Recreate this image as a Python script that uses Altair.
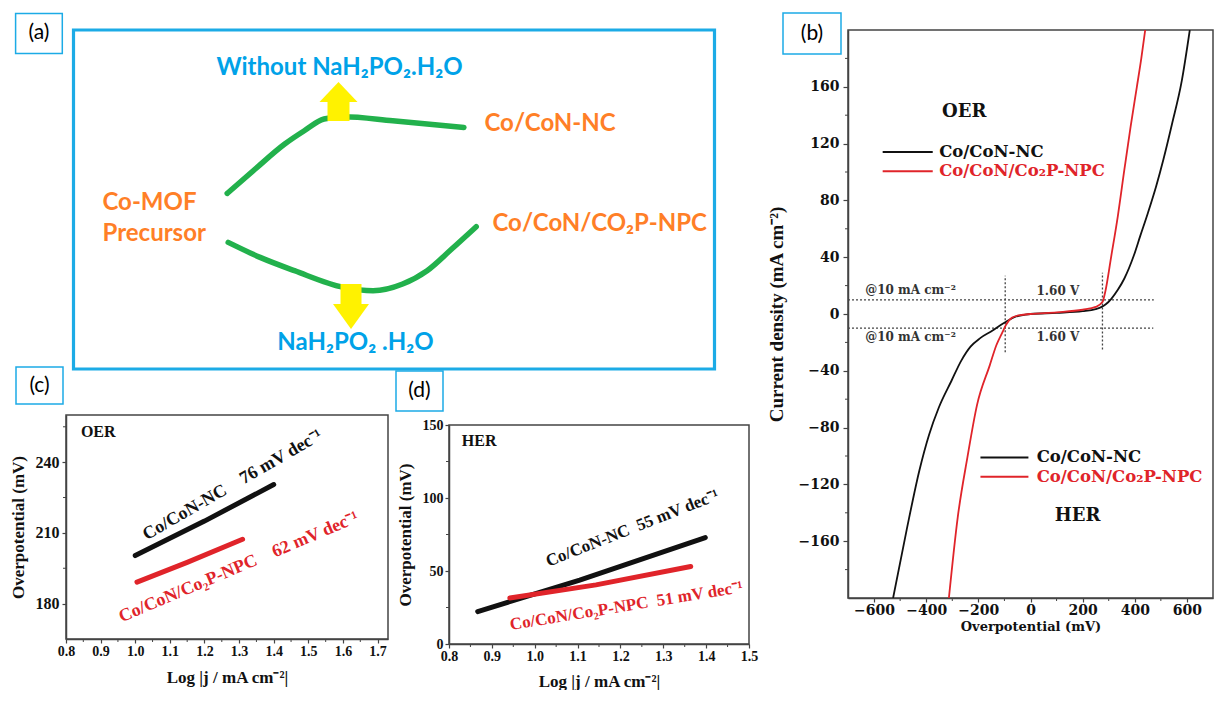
import altair as alt
import pandas as pd

# ---------------- fonts / colours ----------------
SERIF = "Liberation Serif"
WIDE = "DejaVu Serif"
SANS = "Lato"
INK = "#111111"
RED = "#e0242a"
SKY = "#1cabe6"
GREY = "#444444"
ORANGE = "#ff7f27"
LBLUE = "#00a2e8"
GREEN = "#22b14c"
YELLOW = "#fff200"

# ---------------- panel (a): schematic (diagram units = px inside the blue frame) ----------------
a_frame_x = [0, 641]
a_frame_y = [0, 339]
a_up_x = [153.7, 181.7, 211.2, 230.8, 250.5, 270.1, 319.2, 390.4]
a_up_y = [163.4, 139.0, 114.0, 100.7, 89.0, 86.7, 90.7, 97.4]
a_lo_x = [154.7, 186.6, 221.0, 270.1, 299.6, 329.1, 353.6, 378.2, 402.7]
a_lo_y = [212.4, 227.4, 240.7, 257.4, 260.7, 254.0, 240.7, 219.0, 196.7]
a_stem_x1 = [254, 267]
a_stem_x2 = [276, 288]
a_stem_y1 = [72, 254]
a_stem_y2 = [91, 274]
a_head_g = ["up", "up", "up", "down", "down", "down"]
a_head_x = [246, 265, 284, 259.5, 277.5, 295.5]
a_head_y = [72, 52, 72, 274, 299, 274]
a_head_base = [72, 72, 72, 274, 274, 274]
a_blue_text = ["Without NaH₂PO₂.H₂O", "NaH₂PO₂ .H₂O"]
a_blue_x = [266, 282]
a_blue_y = [38, 313]
a_orange_text = ["Co/CoN-NC", "Co-MOF", "Precursor", "Co/CoN/CO₂P-NPC"]
a_orange_x = [411, 29, 29, 419]
a_orange_y = [94, 173, 204, 194]

# ---------------- panel (b): polarization curves ----------------
series = ["Co/CoN-NC", "Co/CoN/Co₂P-NPC"]
b_nc_x = [-527, -475, -426, -389, -352, -303, -266, -230, -193, -144, -120, -95, -60, -20, 0,
          100, 200, 250, 273, 290, 310, 335, 360, 396, 421, 450, 482, 510, 543, 580, 611]
b_nc_y = [-200, -152, -110, -85, -66, -47, -33, -23, -17, -11.5, -8.4, -5.6, -2, -0.5, 0,
          0.8, 2, 3.5, 5, 7, 10.7, 17, 25, 41, 55, 71, 90, 109, 134, 164, 200]
b_npc_x = [-313, -279, -242, -205, -156, -131, -107, -95, -70, -40, 0,
           100, 200, 250, 276, 286, 310, 335, 360, 384, 408, 425, 440]
b_npc_y = [-200, -143, -101, -64, -36, -22, -12.6, -8.0, -2.5, -0.8, 0,
           1.2, 3, 5, 8.4, 15, 41, 69, 101.6, 132, 160, 180, 200]
b_xticks = [-600, -400, -200, 0, 200, 400, 600]
b_xminor = [-500, -300, -100, 100, 300, 500]
b_yticks = [-160, -120, -80, -40, 0, 40, 80, 120, 160]
b_yminor = [-180, -140, -100, -60, -20, 20, 60, 100, 140, 180]
b_h_y = [10, -10]
b_h_x1 = [-700, -700]
b_h_x2 = [473, 471]
b_v_x = [-97, 276]
b_v_y1 = [-27, -25]
b_v_y2 = [27, 29]
b_note_text = ["@10 mA cm⁻²", "1.60 V", "@10 mA cm⁻²", "1.60 V"]
b_note_x = [-460, 105, -460, 105]
b_note_y = [17, 16.5, -16, -16]
b_leg_oer_x = [-567, -375]
b_leg_oer_y = [114, 100.5]
b_leg_her_x = [-192, -8]
b_leg_her_y = [-101, -114.7]
b_leg_text_oer_x = -358
b_leg_text_her_x = 16
b_tag_text = ["OER", "HER"]
b_tag_x = [-254, 181]
b_tag_y = [142, -142]

# ---------------- panel (c): OER Tafel ----------------
c_nc_x = [1.00, 1.20, 1.40]
c_nc_y = [200.4, 215.0, 230.5]
c_npc_x = [1.005, 1.15, 1.31]
c_npc_y = [189.1, 197.5, 207.3]
c_xticks = [0.8, 0.9, 1.0, 1.1, 1.2, 1.3, 1.4, 1.5, 1.6, 1.7]
c_xminor = [0.85, 0.95, 1.05, 1.15, 1.25, 1.35, 1.45, 1.55, 1.65]
c_yticks = [180, 210, 240]
c_yminor = [195, 225, 255]
c_lab_text = ["Co/CoN-NC\u2002\u200276 mV dec⁻¹", "Co/CoN/Co₂P-NPC\u2002\u200262 mV dec⁻¹"]
c_lab_x = [1.281, 1.299]
c_lab_y = [230.2, 195.4]
c_lab_angle = [330, 337]

# ---------------- panel (d): HER Tafel ----------------
d_nc_x = [0.867, 1.105, 1.398]
d_nc_y = [22.2, 43.8, 72.9]
d_npc_x = [0.942, 1.143, 1.364]
d_npc_y = [31.5, 40.5, 53.1]
d_xticks = [0.8, 0.9, 1.0, 1.1, 1.2, 1.3, 1.4, 1.5]
d_xminor = [0.85, 0.95, 1.05, 1.15, 1.25, 1.35, 1.45]
d_yticks = [0, 50, 100, 150]
d_yminor = [25, 75, 125]
d_lab_text = ["Co/CoN-NC\u200255 mV dec⁻¹", "Co/CoN/Co₂P-NPC\u200251 mV dec⁻¹"]
d_lab_x = [1.228, 1.214]
d_lab_y = [79.3, 26.0]
d_lab_angle = [338.5, 350.7]

# ---------------- sizes ----------------
A_OFF = 7.5          # blue frame starts this far right of the (c) plot's left edge
AW, AH = 641 + A_OFF, 339
BW, BH = 365, 568
CW, CH = 322, 224
DW, DH = 300, 219

one = pd.DataFrame({"k": [0]})
color_scale = alt.Scale(domain=series, range=[INK, RED])


def label_box(txt, x1, y1, x2, y2):
    box = alt.Chart(one).mark_rect(fill="white", stroke=SKY, strokeWidth=1.5).encode(
        x=alt.value(x1), x2=alt.value(x2), y=alt.value(y1), y2=alt.value(y2))
    t = alt.Chart(one).mark_text(font=SANS, fontSize=21, color="#000", align="center",
                                 baseline="middle").encode(
        x=alt.value((x1 + x2) / 2), y=alt.value((y1 + y2) / 2), text=alt.value(txt))
    return [box, t]


def minor_ticks(xs, ys, X, Y, h, col=GREY):
    lx = alt.Chart(pd.DataFrame({"x": xs})).mark_rule(color=col, strokeWidth=1).encode(
        x=X, y=alt.value(h), y2=alt.value(h + 3))
    ly = alt.Chart(pd.DataFrame({"y": ys})).mark_rule(color=col, strokeWidth=1).encode(
        y=Y, x=alt.value(0), x2=alt.value(-3))
    return [lx, ly]


# ================= panel (a) =================
ax_s = alt.Scale(domain=[-A_OFF, 641], nice=False, zero=False)
ay_s = alt.Scale(domain=[0, AH], nice=False, zero=False, reverse=True)
AX = alt.X("x:Q", scale=ax_s, axis=None)
AY = alt.Y("y:Q", scale=ay_s, axis=None)

a_curves = pd.concat([
    pd.DataFrame({"x": a_up_x, "y": a_up_y, "g": "up"}),
    pd.DataFrame({"x": a_lo_x, "y": a_lo_y, "g": "lo"}),
])
a_frame = pd.DataFrame({"x": [a_frame_x[0]], "x2": [a_frame_x[1]],
                        "y": [a_frame_y[0]], "y2": [a_frame_y[1]]})
a_stems = pd.DataFrame({"x": a_stem_x1, "x2": a_stem_x2, "y": a_stem_y1, "y2": a_stem_y2})
a_heads = pd.DataFrame({"x": a_head_x, "y": a_head_y, "y2": a_head_base, "g": a_head_g})

a_layers = [
    alt.Chart(a_frame).mark_rect(fillOpacity=0, stroke=SKY, strokeWidth=3.2).encode(
        x=AX, x2="x2:Q", y=AY, y2="y2:Q"),
    alt.Chart(a_curves).mark_line(color=GREEN, strokeWidth=5.5, interpolate="monotone",
                                  strokeCap="round").encode(x=AX, y=AY, detail="g:N"),
    alt.Chart(a_stems).mark_rect(color=YELLOW).encode(x=AX, x2="x2:Q", y=AY, y2="y2:Q"),
    alt.Chart(a_heads).mark_area(color=YELLOW, opacity=1).encode(x=AX, y=AY, y2="y2:Q", detail="g:N"),
    alt.Chart(pd.DataFrame({"x": a_blue_x, "y": a_blue_y, "t": a_blue_text})).mark_text(
        font=SANS, fontSize=24, fontWeight="bold", color=LBLUE, align="center",
        baseline="middle").encode(x=AX, y=AY, text="t:N"),
    alt.Chart(pd.DataFrame({"x": a_orange_x, "y": a_orange_y, "t": a_orange_text})).mark_text(
        font=SANS, fontSize=24, fontWeight="bold", color=ORANGE, align="left",
        baseline="middle").encode(x=AX, y=AY, text="t:N"),
] + label_box("(a)", -50.4, -16.6, -3.7, 23.4)

panel_a = alt.layer(*a_layers).properties(width=AW, height=AH)

# ================= panel (b) =================
bx_s = alt.Scale(domain=[-700, 700], nice=False, zero=False)
by_s = alt.Scale(domain=[-200, 200], nice=False, zero=False)
bxa = alt.Axis(values=b_xticks, title="Overpotential (mV)", labelFont=WIDE, labelFontSize=14,
               titleFont=WIDE, titleFontSize=13, tickSize=4, labelPadding=1, titlePadding=3,
               labelFlush=False, labelOverlap=False)
bya = alt.Axis(values=b_yticks, title="Current density (mA cm⁻²)", labelFont=WIDE, labelFontSize=14,
               titleFont=SERIF, titleFontSize=19, tickSize=5, labelPadding=4, titlePadding=12,
               labelFlush=False, labelOverlap=False)
BX = alt.X("x:Q", scale=bx_s, axis=bxa)
BY = alt.Y("y:Q", scale=by_s, axis=bya)
BC = alt.Color("s:N", scale=color_scale, legend=None)

b_curves = pd.concat([
    pd.DataFrame({"x": b_nc_x, "y": b_nc_y, "s": series[0]}),
    pd.DataFrame({"x": b_npc_x, "y": b_npc_y, "s": series[1]}),
])
b_h = pd.DataFrame({"x": b_h_x1, "x2": b_h_x2, "y": b_h_y})
b_v = pd.DataFrame({"x": b_v_x, "y": b_v_y1, "y2": b_v_y2})
b_leg = pd.DataFrame({
    "x": [b_leg_oer_x[0]] * 2 + [b_leg_her_x[0]] * 2,
    "x2": [b_leg_oer_x[1]] * 2 + [b_leg_her_x[1]] * 2,
    "y": b_leg_oer_y + b_leg_her_y,
    "s": series + series,
})
b_leg_t = pd.DataFrame({
    "x": [b_leg_text_oer_x] * 2 + [b_leg_text_her_x] * 2,
    "y": b_leg_oer_y + b_leg_her_y,
    "s": series + series,
})

b_layers = [
    alt.Chart(b_h).mark_rule(color=GREY, strokeDash=[2, 2], strokeWidth=1.3).encode(
        x=BX, x2="x2:Q", y=BY),
    alt.Chart(b_v).mark_rule(color=GREY, strokeDash=[2, 2], strokeWidth=1.3).encode(
        x=BX, y=BY, y2="y2:Q"),
    alt.Chart(b_curves).mark_line(strokeWidth=1.8, interpolate="monotone", clip=True).encode(
        x=BX, y=BY, color=BC),
    alt.Chart(b_leg).mark_rule(strokeWidth=2).encode(x=BX, x2="x2:Q", y=BY, color=BC),
    alt.Chart(b_leg_t).mark_text(font=WIDE, fontSize=16.5, fontWeight="bold", align="left",
                                 baseline="middle", dx=2).encode(x=BX, y=BY, text="s:N", color=BC),
    alt.Chart(pd.DataFrame({"x": b_note_x, "y": b_note_y, "t": b_note_text})).mark_text(
        font=WIDE, fontSize=12, fontWeight="bold", color="#333", align="center",
        baseline="middle").encode(x=BX, y=BY, text="t:N"),
    alt.Chart(pd.DataFrame({"x": b_tag_x, "y": b_tag_y, "t": b_tag_text})).mark_text(
        font=WIDE, fontSize=18, fontWeight="bold", color=INK, align="center",
        baseline="middle").encode(x=BX, y=BY, text="t:N"),
] + minor_ticks(b_xminor, b_yminor, BX, BY, BH) + label_box("(b)", -65, -17, -7, 24)

panel_b = alt.layer(*b_layers).properties(
    width=BW, height=BH, view=alt.ViewBackground(stroke=GREY, strokeWidth=1.5))

# ================= panel (c) =================
cx_s = alt.Scale(domain=[0.8, 1.73], nice=False, zero=False)
cy_s = alt.Scale(domain=[165, 260], nice=False, zero=False)
cxa = alt.Axis(values=c_xticks, format=".1f", title="Log |j / mA cm⁻²|", labelFont=SERIF,
               labelFontSize=14, titleFont=SERIF, titleFontSize=17, tickSize=4, labelPadding=1,
               titlePadding=11, labelFlush=False, labelOverlap=False)
cya = alt.Axis(values=c_yticks, title="Overpotential (mV)", labelFont=SERIF, labelFontSize=16,
               titleFont=SERIF, titleFontSize=17, tickSize=4, labelPadding=3, titlePadding=8,
               labelFlush=False, labelOverlap=False)
CX = alt.X("x:Q", scale=cx_s, axis=cxa)
CY = alt.Y("y:Q", scale=cy_s, axis=cya)
CC = alt.Color("s:N", scale=color_scale, legend=None)

c_lines = pd.concat([
    pd.DataFrame({"x": c_nc_x, "y": c_nc_y, "s": series[0]}),
    pd.DataFrame({"x": c_npc_x, "y": c_npc_y, "s": series[1]}),
])
c_labs = pd.DataFrame({"x": c_lab_x, "y": c_lab_y, "t": c_lab_text, "s": series})

c_layers = [
    alt.Chart(c_lines).mark_line(strokeWidth=5, strokeCap="round").encode(x=CX, y=CY, color=CC),
    alt.Chart(c_labs[c_labs.s == series[0]]).mark_text(
        font=SERIF, fontSize=18, fontWeight="bold", angle=c_lab_angle[0], align="center",
        baseline="middle").encode(x=CX, y=CY, text="t:N", color=CC),
    alt.Chart(c_labs[c_labs.s == series[1]]).mark_text(
        font=SERIF, fontSize=18, fontWeight="bold", angle=c_lab_angle[1], align="center",
        baseline="middle").encode(x=CX, y=CY, text="t:N", color=CC),
    alt.Chart(pd.DataFrame({"x": [0.843], "y": [253.0], "t": ["OER"]})).mark_text(
        font=SERIF, fontSize=16, fontWeight="bold", color=INK, align="left",
        baseline="middle").encode(x=CX, y=CY, text="t:N"),
] + minor_ticks(c_xminor, c_yminor, CX, CY, CH) + label_box("(c)", -50, -48, -3, -11)

panel_c = alt.layer(*c_layers).properties(
    width=CW, height=CH, view=alt.ViewBackground(stroke=GREY, strokeWidth=1.5))

# ================= panel (d) =================
dx_s = alt.Scale(domain=[0.8, 1.5], nice=False, zero=False)
dy_s = alt.Scale(domain=[0, 150], nice=False, zero=False)
dxa = alt.Axis(values=d_xticks, format=".1f", title="Log |j / mA cm⁻²|", labelFont=SERIF,
               labelFontSize=14, titleFont=SERIF, titleFontSize=17, tickSize=4, labelPadding=1,
               titlePadding=10, labelFlush=False, labelOverlap=False)
dya = alt.Axis(values=d_yticks, title="Overpotential (mV)", labelFont=SERIF, labelFontSize=14,
               titleFont=SERIF, titleFontSize=17, tickSize=4, labelPadding=2, titlePadding=8,
               labelFlush=False, labelOverlap=False)
DX = alt.X("x:Q", scale=dx_s, axis=dxa)
DY = alt.Y("y:Q", scale=dy_s, axis=dya)

d_lines = pd.concat([
    pd.DataFrame({"x": d_nc_x, "y": d_nc_y, "s": series[0]}),
    pd.DataFrame({"x": d_npc_x, "y": d_npc_y, "s": series[1]}),
])
d_labs = pd.DataFrame({"x": d_lab_x, "y": d_lab_y, "t": d_lab_text, "s": series})

d_layers = [
    alt.Chart(d_lines).mark_line(strokeWidth=5, strokeCap="round").encode(x=DX, y=DY, color=CC),
    alt.Chart(d_labs[d_labs.s == series[0]]).mark_text(
        font=SERIF, fontSize=17, fontWeight="bold", angle=d_lab_angle[0], align="center",
        baseline="middle").encode(x=DX, y=DY, text="t:N", color=CC),
    alt.Chart(d_labs[d_labs.s == series[1]]).mark_text(
        font=SERIF, fontSize=17, fontWeight="bold", angle=d_lab_angle[1], align="center",
        baseline="middle").encode(x=DX, y=DY, text="t:N", color=CC),
    alt.Chart(pd.DataFrame({"x": [0.83], "y": [138.7], "t": ["HER"]})).mark_text(
        font=SERIF, fontSize=16, fontWeight="bold", color=INK, align="left",
        baseline="middle").encode(x=DX, y=DY, text="t:N"),
] + minor_ticks(d_xminor, d_yminor, DX, DY, DH)

panel_d = alt.layer(*d_layers).properties(
    width=DW, height=DH, view=alt.ViewBackground(stroke=GREY, strokeWidth=1.5))

# small header strip above (d) that carries its "(d)" tag and pushes (d) down a little
d_head = alt.layer(*label_box("(d)", -53, -44, -6, -4)).properties(width=DW, height=1)

# ================= layout =================
d_col = alt.concat(d_head, panel_d, columns=1, spacing=1)
bottom = alt.concat(panel_c, d_col, columns=2, spacing=6)
left = alt.concat(panel_a, bottom, columns=1, spacing=-6)
chart = alt.concat(left, panel_b, columns=2, spacing=7).properties(
    padding={"left": 0, "top": 3, "right": 0, "bottom": 0}
).configure_axis(
    grid=False, domainColor=GREY, tickColor=GREY, domainWidth=1.5, tickWidth=1.2,
    labelColor=INK, titleColor=INK, labelFontWeight="bold", titleFontWeight="bold"
).configure_view(stroke=None)

chart.save("out.html", embed_options={"renderer": "svg", "actions": False})
